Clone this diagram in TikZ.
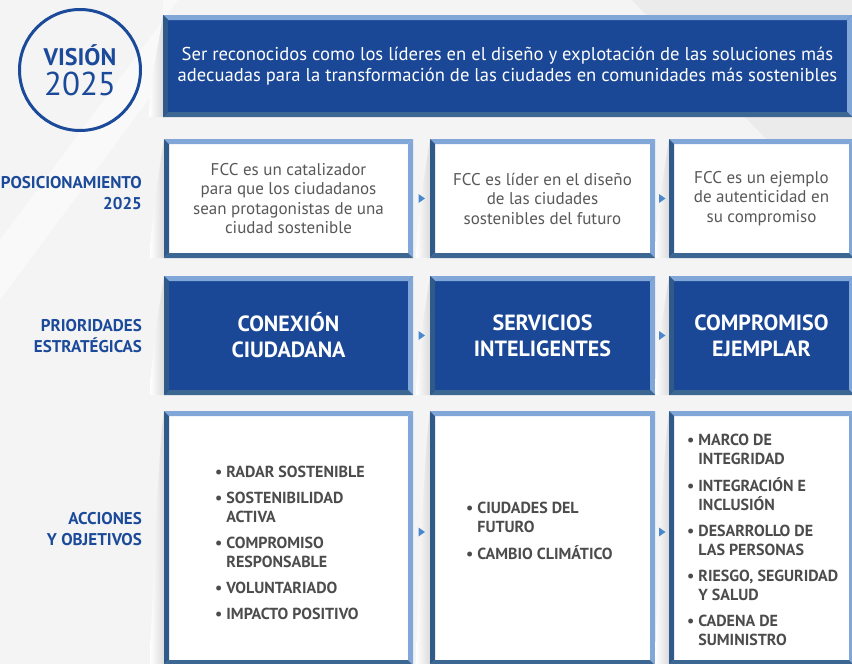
\documentclass[tikz,border=0pt]{standalone}
\usepackage{fontspec}
\setmainfont{PT Sans}
\usetikzlibrary{calc}

\definecolor{fccbg}{HTML}{F4F4F4}
\definecolor{fccbglight}{HTML}{F9F9F9}
\definecolor{fccbgdark}{HTML}{EBEBEB}
\definecolor{fccblue}{HTML}{1A4796}
\definecolor{fcclabel}{HTML}{1C4A9A}
\definecolor{bevlight}{HTML}{80A7D8}
\definecolor{bevdark}{HTML}{2F5A8A}
\definecolor{bevlow}{HTML}{3D6793}
\definecolor{fcctext}{HTML}{585858}
\definecolor{fcclist}{HTML}{4C4C4C}
\definecolor{fccarrow}{HTML}{4A88CE}

\tikzset{
  panel/.style={anchor=north west, inner sep=0pt, outer sep=0pt, align=center},
  bluepanel/.style={panel, fill=fccblue, text=white},
  whitepanel/.style={panel, fill=white, text=fcctext, font=\fontsize{17}{19.5}\selectfont},
  strongpanel/.style={bluepanel, font=\bfseries\fontsize{22}{26}\selectfont},
  rowlabel/.style={anchor=base east, align=right, inner sep=0pt, text=fcclabel, font=\bfseries\fontsize{17}{21}\selectfont},
  itemlist/.style={anchor=west, inner sep=0pt, text=fcclist, font=\bfseries\fontsize{16}{19}\selectfont},
}

% bevelled frame round a panel
\newcommand{\bevel}[1]{%
  \fill[bevlight] (#1.north west) -- (#1.north east) -- ([shift={(-5,5)}]#1.north east) -- ([shift={(5,5)}]#1.north west) -- cycle;
  \fill[bevlight] (#1.north east) -- (#1.south east) -- ([shift={(-5,-5)}]#1.south east) -- ([shift={(-5,5)}]#1.north east) -- cycle;
  \fill[bevlow] (#1.south west) -- (#1.south east) -- ([shift={(-5,-5)}]#1.south east) -- ([shift={(5,-5)}]#1.south west) -- cycle;
  \fill[bevdark] (#1.north west) -- (#1.south west) -- ([shift={(5,-5)}]#1.south west) -- ([shift={(5,5)}]#1.north west) -- cycle;
}
% curled shadow left of a panel
\newcommand{\curl}[1]{%
  \shade[left color=white, right color=black!14] (#1.north west) .. controls ([shift={(-6,40)}]#1.north west) and ([shift={(-13,-40)}]#1.south west) .. ([shift={(-14,0)}]#1.south west) -- (#1.south west) -- cycle;
}
% small arrow tip between two panels
\newcommand{\tip}[3]{%
  \coordinate (#1) at ($(#2.east)!0.5!(#3.west)$);
  \fill[fccarrow] ([shift={(-3,-4.5)}]#1) -- ([shift={(3.5,0)}]#1) -- ([shift={(-3,4.5)}]#1) -- cycle;
}

\begin{document}
\begin{tikzpicture}[x=1pt,y=1pt,yscale=-1,xscale=1]
  \clip (0,0) rectangle (852,664);
  \useasboundingbox (0,0) rectangle (852,664);

  % Background
  \fill[fccbg] (0,0) rectangle (852,664);
  \fill[fccbglight] (178,0) -- (0,240) -- (0,300) -- (163,80) -- (163,0) -- cycle;
  \fill[fccbgdark] (632,0) -- (852,0) -- (852,228) -- cycle;

  % Vision circle
  \node[circle, draw=fcclabel, line width=3pt, minimum size=121pt, inner sep=0pt] (ring) at (80,70) {};
  \node[anchor=base, inner sep=0pt, text=fcclabel, font=\bfseries\fontsize{24}{24}\selectfont] (ringtop) at (80,65) {VISIÓN};
  \node[anchor=base, inner sep=0pt, text=fcclabel, font=\fontsize{33}{33}\selectfont] (ringyear) at (80,95) {2025};

  % Vision banner
  \node[bluepanel, minimum width=689pt, minimum height=102pt, font=\fontsize{18.6}{21}\selectfont] (vision) at (163,15)
    {Ser reconocidos como los líderes en el diseño y explotación de las soluciones más\\
     adecuadas para la transformación de las ciudades en comunidades más sostenibles};

  % Row 1: positioning
  \node[whitepanel, minimum width=249pt, minimum height=119pt] (posA) at (164,139)
    {FCC es un catalizador\\para que los ciudadanos\\sean protagonistas de una\\ciudad sostenible};
  \node[whitepanel, minimum width=225pt, minimum height=119pt] (posB) at (430,139)
    {FCC es líder en el diseño\\de las ciudades\\sostenibles del futuro};
  \node[whitepanel, minimum width=185pt, minimum height=119pt] (posC) at (669,139)
    {FCC es un ejemplo\\de autenticidad en\\su compromiso};

  % Row 2: priorities
  \node[strongpanel, minimum width=249pt, minimum height=119pt] (prioA) at (164,276) {CONEXIÓN\\CIUDADANA};
  \node[strongpanel, minimum width=225pt, minimum height=119pt] (prioB) at (430,276) {SERVICIOS\\INTELIGENTES};
  \node[strongpanel, minimum width=185pt, minimum height=119pt] (prioC) at (669,276) {COMPROMISO\\EJEMPLAR};

  % Row 3: actions
  \node[panel, fill=white, minimum width=249pt, minimum height=254pt] (actA) at (164,411) {};
  \node[panel, fill=white, minimum width=225pt, minimum height=254pt] (actB) at (430,411) {};
  \node[panel, fill=white, minimum width=185pt, minimum height=254pt] (actC) at (669,411) {};

  % Shadows and frames
  \foreach \p in {vision,posA,posB,posC,prioA,prioB,prioC,actA,actB,actC}{
    \curl{\p}
    \bevel{\p}
  }

  % Text Node
  \node[itemlist] (listA) at ([shift={(51,7)}]actA.west)
    {\begin{tabular}{@{}l@{\hspace{4pt}}l@{}}
      \textbullet & RADAR SOSTENIBLE\\[7pt]
      \textbullet & SOSTENIBILIDAD\\ & ACTIVA\\[7pt]
      \textbullet & COMPROMISO\\ & RESPONSABLE\\[7pt]
      \textbullet & VOLUNTARIADO\\[7pt]
      \textbullet & IMPACTO POSITIVO
    \end{tabular}};
  % Text Node
  \node[itemlist] (listB) at ([shift={(36,-5)}]actB.west)
    {\begin{tabular}{@{}l@{\hspace{4pt}}l@{}}
      \textbullet & CIUDADES DEL\\ & FUTURO\\[7pt]
      \textbullet & CAMBIO CLIMÁTICO
    \end{tabular}};
  % Text Node
  \node[itemlist] (listC) at ([shift={(18,4)}]actC.west)
    {\begin{tabular}{@{}l@{\hspace{4pt}}l@{}}
      \textbullet & MARCO DE\\ & INTEGRIDAD\\[7pt]
      \textbullet & INTEGRACIÓN E\\ & INCLUSIÓN\\[7pt]
      \textbullet & DESARROLLO DE\\ & LAS PERSONAS\\[7pt]
      \textbullet & RIESGO, SEGURIDAD\\ & Y SALUD\\[7pt]
      \textbullet & CADENA DE\\ & SUMINISTRO
    \end{tabular}};

  % Arrow tips
  \tip{tA}{posA}{posB}
  \tip{tB}{posB}{posC}
  \tip{tC}{prioA}{prioB}
  \tip{tD}{prioB}{prioC}
  \tip{tE}{[yshift=-6]actA}{[yshift=-6]actB}
  \tip{tF}{[yshift=-6]actB}{[yshift=-6]actC}

  % Row labels
  \node[rowlabel] (labPos) at (142,209) {POSICIONAMIENTO\\2025};
  \node[rowlabel] (labPrio) at (142,352) {PRIORIDADES\\ESTRATÉGICAS};
  \node[rowlabel] (labAct) at (142,545) {ACCIONES\\Y OBJETIVOS};
\end{tikzpicture}
\end{document}
